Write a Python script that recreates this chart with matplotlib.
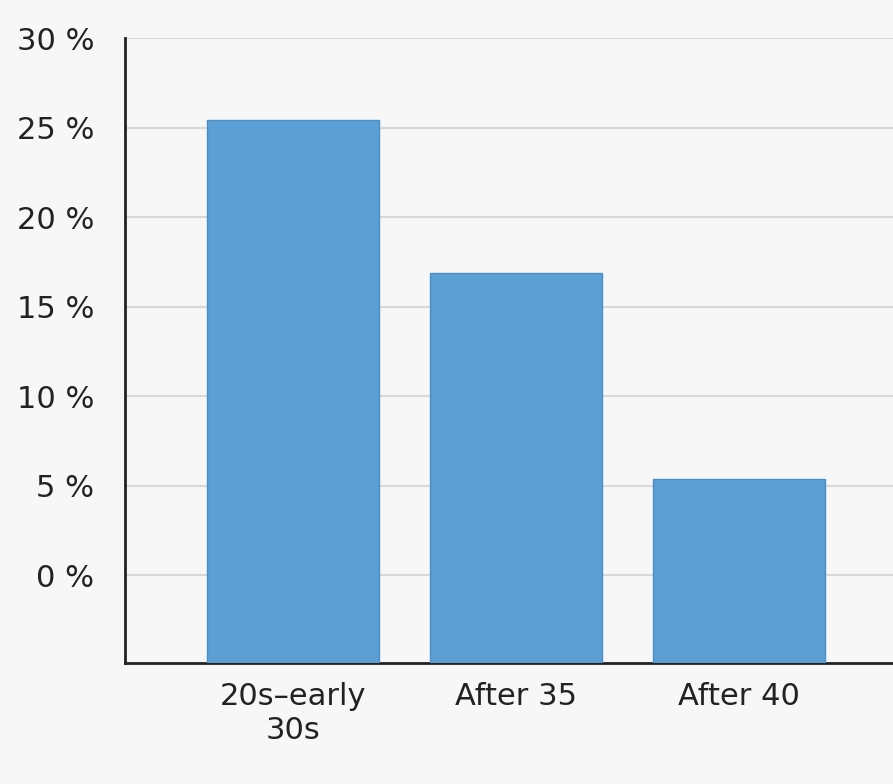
import matplotlib
matplotlib.use("Agg")
import matplotlib.pyplot as plt

categories = ["20s–early\n30s", "After 35", "After 40"]
values = [25.4, 16.9, 5.4]
yticks = [0, 5, 10, 15, 20, 25, 30]
ytick_labels = ["0 %", "5 %", "10 %", "15 %", "20 %", "25 %", "30 %"]

bg = "#f7f7f7"
fig = plt.figure(figsize=(8.93, 7.84), dpi=100, facecolor=bg)
ax = fig.add_axes([125/893, 1-663/784, 768/893, (663-38)/784], facecolor=bg)
ymin = -4.9
x = list(range(len(categories)))
ax.bar(x, [v - ymin for v in values], bottom=ymin, width=0.77, color="#5b9fd4",
       edgecolor="#4a8fc8", linewidth=1, zorder=3)
ax.set_ylim(ymin, 30)
ax.set_xlim(-0.753, 2.69)
ax.set_yticks(yticks)
ax.set_yticklabels(ytick_labels, fontsize=22, color="#222222")
ax.set_xticks(x)
ax.set_xticklabels(categories, fontsize=22, color="#222222", linespacing=1.2)
ax.tick_params(length=0, pad=22)
ax.tick_params(axis="x", pad=14)
ax.grid(axis="y", color="#d8d8d8", linewidth=1.5, zorder=0)
for s in ["top", "right"]:
    ax.spines[s].set_visible(False)
for s in ["left", "bottom"]:
    ax.spines[s].set_color("#222222")
    ax.spines[s].set_linewidth(2)
fig.savefig("out.png", dpi=100, facecolor=bg)
